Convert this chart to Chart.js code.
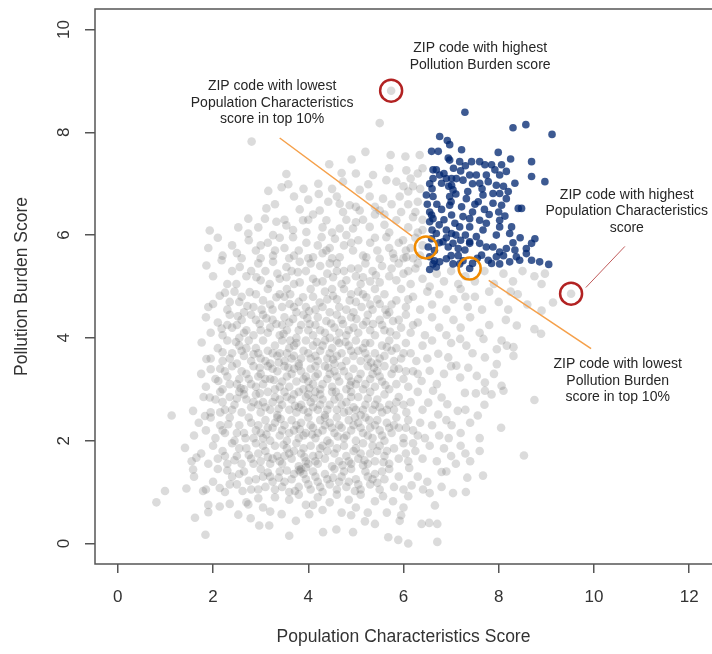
<!DOCTYPE html>
<html>
<head>
<meta charset="utf-8">
<script src="https://cdn.jsdelivr.net/npm/chart.js@4.4.1/dist/chart.umd.min.js"></script>
<style>
  body { margin: 0; background: #fff; }
</style>
</head>
<body>
<canvas id="chart" width="712" height="654"></canvas>
<script>
// axis ticks
const xTicks = [0, 2, 4, 6, 8, 10, 12];
const yTicks = [0, 2, 4, 6, 8, 10];

// all ZIP codes (population characteristics score, pollution burden score)
const grayPoints = [
  // y 0 - 1
  [1.84,0.17],[1.62,0.50],[1.90,0.61],[2.14,0.72],[2.35,0.77],[2.53,0.56],[2.74,0.76],[2.79,0.49],[2.70,0.80],[2.97,0.35],
  [3.18,0.35],[3.05,0.70],[3.30,0.90],[3.44,0.57],[3.60,0.85],[3.74,0.44],[3.80,0.95],[4.02,0.57],[3.95,0.75],[4.20,0.90],
  [4.31,0.22],[4.30,0.65],[4.45,0.80],[4.59,0.27],[4.60,0.95],[4.70,0.60],[4.85,0.85],[4.94,0.22],[5.00,0.70],[5.10,0.95],
  [5.19,0.43],[5.25,0.60],[5.40,0.38],[5.40,0.82],[5.57,0.92],[5.68,0.12],[5.78,0.82],[5.65,0.60],[5.89,0.07],[5.92,0.44],
  [6.10,0.92],[6.00,0.70],[6.10,0.00],[6.38,0.38],[6.54,0.40],[6.71,0.03],[6.71,0.38],[6.55,0.98],[6.66,0.74],[7.04,0.98],
  [4.10,0.75],[3.20,0.62],[2.95,0.88],[4.90,0.55],[5.95,0.55],[0.81,0.80],[1.90,0.75],[3.60,0.15],
  // y 1 - 1.5
  [0.99,1.02],[1.44,1.07],[1.79,1.02],[1.58,1.44],[1.60,1.30],[1.85,1.05],[2.00,1.20],[2.10,1.45],[2.14,1.08],[2.25,1.00],
  [2.40,1.30],[2.50,1.15],[2.65,1.40],[2.80,1.05],[2.90,1.25],[3.00,1.45],[3.10,1.10],[3.20,1.30],[3.30,1.05],[3.40,1.40],
  [3.50,1.20],[3.60,1.00],[3.70,1.35],[3.80,1.10],[3.85,1.45],[3.95,1.25],[4.05,1.05],[4.10,1.40],[4.20,1.20],[4.30,1.00],
  [4.35,1.35],[4.45,1.15],[4.55,1.45],[4.60,1.05],[4.70,1.30],[4.80,1.10],[4.90,1.45],[5.00,1.25],[5.10,1.05],[5.20,1.40],
  [5.30,1.15],[5.40,1.35],[5.50,1.05],[5.60,1.25],[5.70,1.45],[5.80,1.10],[5.90,1.30],[6.00,1.05],[6.17,1.13],[6.12,1.47],
  [6.30,1.30],[6.41,1.05],[6.50,1.20],[6.80,1.39],[6.90,1.40],[7.31,1.00],[7.34,1.28],[7.67,1.32],[2.30,1.42],[3.55,1.42],
  [4.00,1.15],[4.65,1.20],[5.35,1.25],[3.15,1.38],[2.75,1.22],[3.80,1.43],[3.83,1.40],
  [2.55,1.35],[2.95,1.05],[3.25,1.20],[3.45,1.10],[3.65,1.25],[3.90,1.35],[4.15,1.30],[4.40,1.25],[4.75,1.40],[5.05,1.15],
  [5.25,1.30],[5.55,1.40],[3.05,1.30],[4.25,1.10],[4.85,1.20],[6.80,1.10],
  [2.62,1.02],[3.38,1.28],[3.72,1.02],[4.52,1.28],[4.98,1.02],[5.45,1.18],[2.35,1.15],[3.95,1.48],[5.15,1.52],
  // y 1.5 - 2
  [1.41,1.86],[1.55,1.60],[1.65,1.67],[1.75,1.75],[1.90,1.55],[2.00,1.90],[2.10,1.65],[2.20,1.80],[2.30,1.55],[2.40,1.95],
  [2.50,1.70],[2.60,1.55],[2.70,1.85],[2.80,1.65],[2.90,1.95],[3.00,1.60],[3.10,1.80],[3.20,1.55],[3.30,1.90],[3.35,1.70],
  [3.45,1.55],[3.55,1.85],[3.65,1.65],[3.75,1.95],[3.80,1.50],[3.85,1.75],[3.95,1.60],[4.05,1.90],[4.10,1.70],[4.20,1.55],
  [4.25,1.85],[4.35,1.65],[4.45,1.95],[4.50,1.50],[4.55,1.75],[4.65,1.60],[4.75,1.90],[4.80,1.70],[4.90,1.55],[5.00,1.85],
  [5.05,1.65],[5.15,1.95],[5.25,1.55],[5.30,1.75],[5.40,1.60],[5.50,1.90],[5.60,1.70],[5.70,1.55],[5.80,1.85],[5.90,1.65],
  [6.00,1.95],[6.10,1.60],[6.25,1.80],[6.40,1.65],[6.55,1.90],[6.70,1.60],[6.85,1.85],[7.00,1.70],[7.20,1.90],[7.40,1.60],
  [7.60,1.80],[8.53,1.71],[4.40,1.80],[3.60,1.75],[2.95,1.75],[5.45,1.80],[4.95,1.80],
  [2.25,1.70],[2.55,1.85],[2.85,1.55],[3.05,1.90],[3.25,1.65],[3.50,1.70],[3.70,1.80],[3.90,1.85],[4.15,1.60],[4.30,1.90],
  [4.60,1.85],[4.85,1.60],[5.10,1.75],[5.35,1.90],[5.65,1.80],[6.05,1.75],[3.40,1.60],[4.00,1.55],[7.10,1.55],[7.30,1.75],
  [2.45,1.62],[2.75,1.72],[3.15,1.68],[3.48,1.92],[3.92,1.68],[4.22,1.72],[4.72,1.52],[5.18,1.62],[5.58,1.58],[6.20,1.95],
  // y 2 - 2.5
  [1.60,2.10],[1.70,2.35],[1.85,2.20],[1.95,2.45],[2.05,2.05],[2.15,2.30],[2.25,2.15],[2.35,2.45],[2.45,2.00],[2.55,2.30],
  [2.65,2.15],[2.75,2.45],[2.85,2.05],[2.95,2.30],[3.00,2.15],[3.10,2.40],[3.20,2.00],[3.25,2.25],[3.35,2.45],[3.40,2.10],
  [3.50,2.30],[3.55,2.00],[3.65,2.40],[3.70,2.20],[3.80,2.05],[3.85,2.35],[3.95,2.15],[4.00,2.45],[4.10,2.25],[4.15,2.05],
  [4.25,2.40],[4.30,2.20],[4.40,2.00],[4.45,2.35],[4.55,2.15],[4.60,2.45],[4.70,2.25],[4.75,2.05],[4.85,2.40],[4.90,2.20],
  [5.00,2.00],[5.05,2.35],[5.15,2.15],[5.20,2.45],[5.30,2.25],[5.35,2.05],[5.45,2.40],[5.50,2.20],[5.60,2.00],[5.65,2.35],
  [5.75,2.15],[5.85,2.45],[5.90,2.25],[6.00,2.05],[6.10,2.40],[6.20,2.20],[6.35,2.35],[6.45,2.05],[6.60,2.30],[6.75,2.10],
  [6.90,2.40],[7.01,2.30],[7.20,2.15],[7.40,2.35],[8.05,2.25],[7.60,2.05],[4.05,2.30],[4.65,2.30],[3.45,2.20],[5.25,2.10],
  [2.90,2.20],[4.35,2.45],[5.80,2.30],[3.90,2.10],[4.95,2.30],
  [2.20,2.20],[2.50,2.15],[2.80,2.35],[3.05,2.05],[3.30,2.35],[3.60,2.15],[3.75,2.30],[4.20,2.15],[4.50,2.25],[4.80,2.10],
  [5.10,2.25],[5.40,2.30],[5.70,2.25],[6.05,2.25],[3.15,2.25],[4.35,2.30],[6.95,2.05],
  [2.32,2.32],[2.68,2.05],[3.12,2.12],[3.42,2.42],[3.82,2.22],[4.08,2.12],[4.62,2.08],[4.98,2.45],[5.28,2.40],[5.55,2.10],
  [6.30,2.10],
  // y 2.5 - 3
  [1.13,2.49],[1.58,2.58],[1.83,2.48],[1.80,2.85],[1.93,2.84],[1.95,2.55],[2.05,2.80],[2.15,2.95],[2.25,2.60],[2.35,2.85],
  [2.45,2.70],[2.55,2.95],[2.60,2.55],[2.70,2.80],[2.80,2.65],[2.90,2.90],[3.00,2.55],[3.05,2.75],[3.15,2.95],[3.20,2.60],
  [3.30,2.85],[3.35,2.50],[3.45,2.70],[3.50,2.95],[3.60,2.60],[3.65,2.80],[3.75,2.55],[3.80,2.95],[3.85,2.70],[3.95,2.85],
  [4.00,2.55],[4.05,2.75],[4.15,2.95],[4.20,2.60],[4.30,2.80],[4.35,2.50],[4.45,2.70],[4.50,2.95],[4.60,2.60],[4.65,2.85],
  [4.75,2.55],[4.80,2.75],[4.90,2.95],[4.95,2.65],[5.05,2.85],[5.10,2.50],[5.20,2.70],[5.30,2.95],[5.35,2.60],[5.45,2.80],
  [5.55,2.55],[5.60,2.90],[5.70,2.70],[5.80,2.60],[5.90,2.85],[6.06,2.55],[6.15,2.75],[6.30,2.95],[6.52,2.74],[6.62,2.97],
  [6.73,2.51],[6.80,2.84],[6.92,2.71],[7.14,2.58],[7.29,2.93],[7.52,2.92],[7.56,2.49],[7.71,2.97],[7.85,2.90],[8.75,2.79],
  [8.10,2.97],[2.20,2.75],[3.40,2.80],[4.10,2.65],[4.55,2.80],[5.00,2.60],[3.70,2.90],[2.95,2.70],[5.50,2.65],[4.25,2.90],
  [3.90,2.60],
  [2.40,2.60],[2.65,2.90],[2.85,2.75],[3.10,2.65],[3.25,2.75],[3.55,2.85],[3.80,2.65],[4.00,2.90],[4.25,2.70],[4.40,2.60],
  [4.70,2.70],[4.90,2.85],[5.15,2.60],[5.40,2.70],[5.65,2.60],[6.00,2.70],[6.40,2.60],[7.30,2.60],[7.70,2.70],
  [2.15,2.55],[2.50,2.82],[2.98,2.92],[3.38,2.62],[3.72,2.68],[4.12,2.82],[4.58,2.95],[4.85,2.58],[5.25,2.82],[5.85,2.75],
  // y 3 - 3.5
  [1.75,3.30],[1.85,3.05],[1.95,3.39],[2.11,3.16],[2.05,3.20],[2.15,3.40],[2.20,3.00],[2.30,3.25],[2.40,3.45],[2.50,3.10],
  [2.60,3.35],[2.65,3.00],[2.75,3.20],[2.85,3.45],[2.90,3.05],[3.00,3.30],[3.05,3.10],[3.15,3.45],[3.20,3.20],[3.30,3.00],
  [3.35,3.35],[3.45,3.15],[3.50,3.45],[3.60,3.05],[3.65,3.30],[3.75,3.15],[3.80,3.45],[3.90,3.00],[3.95,3.25],[4.05,3.40],
  [4.10,3.10],[4.20,3.30],[4.25,3.00],[4.35,3.45],[4.40,3.20],[4.50,3.05],[4.55,3.35],[4.65,3.15],[4.70,3.45],[4.80,3.00],
  [4.85,3.25],[4.95,3.40],[5.00,3.10],[5.10,3.30],[5.15,3.00],[5.25,3.45],[5.30,3.20],[5.40,3.05],[5.45,3.35],[5.55,3.15],
  [5.60,3.45],[5.70,3.00],[5.75,3.30],[5.85,3.10],[5.90,3.40],[6.00,3.20],[6.10,3.05],[6.20,3.35],[6.38,3.16],[6.55,3.36],
  [6.70,3.10],[6.85,3.30],[7.19,3.23],[7.36,3.42],[7.54,3.26],[7.71,3.13],[8.06,3.07],[7.00,3.45],[3.55,3.25],[4.00,3.15],
  [4.45,3.30],[3.25,3.40],[2.55,3.20],[4.90,3.15],[5.35,3.30],[3.85,3.35],[4.15,3.45],[2.95,3.25],
  [2.35,3.10],[2.70,3.30],[3.10,3.20],[3.40,3.05],[3.70,3.40],[3.90,3.20],[4.30,3.10],[4.60,3.25],[4.75,3.35],[5.05,3.20],
  [5.20,3.10],[5.50,3.25],[5.80,3.40],[6.30,3.30],[2.80,3.10],[4.15,3.25],[7.90,3.30],
  [2.25,3.35],[2.58,3.02],[2.98,3.42],[3.28,3.18],[3.58,3.42],[4.02,3.02],[4.42,3.42],[4.88,3.08],[5.38,3.42],[5.62,3.08],
  [6.05,3.35],
  // y 3.5 - 4
  [1.76,3.91],[1.86,3.59],[1.95,3.60],[2.10,3.80],[2.20,3.55],[2.30,3.95],[2.40,3.70],[2.50,3.50],[2.55,3.85],[2.65,3.65],
  [2.75,3.95],[2.80,3.55],[2.90,3.80],[3.00,3.60],[3.05,3.95],[3.15,3.75],[3.20,3.50],[3.30,3.85],[3.35,3.65],[3.45,3.95],
  [3.50,3.55],[3.60,3.80],[3.65,3.60],[3.75,3.90],[3.80,3.50],[3.90,3.75],[3.95,3.95],[4.05,3.60],[4.10,3.85],[4.20,3.55],
  [4.25,3.75],[4.35,3.95],[4.40,3.60],[4.50,3.80],[4.55,3.50],[4.65,3.90],[4.70,3.70],[4.80,3.55],[4.85,3.85],[4.95,3.65],
  [5.00,3.95],[5.10,3.55],[5.15,3.80],[5.25,3.60],[5.30,3.90],[5.40,3.70],[5.45,3.50],[5.55,3.85],[5.60,3.65],[5.70,3.95],
  [5.80,3.55],[5.85,3.80],[5.95,3.60],[6.05,3.90],[6.15,3.70],[6.27,3.55],[6.40,3.85],[6.73,3.69],[6.94,3.62],[7.11,3.46],
  [7.32,3.85],[7.71,3.62],[7.96,3.49],[8.31,3.65],[7.96,3.78],[8.17,3.85],[8.31,3.82],[7.19,3.98],[7.68,3.98],[8.06,3.95],
  [6.60,3.95],[3.40,3.70],[4.00,3.70],[4.45,3.70],[2.95,3.70],[5.20,3.70],[3.70,3.65],[4.60,3.95],[5.05,3.75],[2.60,3.75],
  [2.35,3.60],[2.70,3.80],[3.10,3.55],[3.25,3.70],[3.55,3.70],[3.85,3.60],[4.15,3.65],[4.30,3.85],[4.60,3.65],[4.90,3.75],
  [5.20,3.90],[5.50,3.60],[5.75,3.75],[6.00,3.70],[6.50,3.60],[3.70,3.85],[7.45,3.70],[7.00,3.90],
  [2.20,3.72],[2.48,3.92],[2.85,3.68],[3.38,3.52],[3.62,3.95],[4.18,3.92],[4.52,3.58],[4.78,3.92],[5.32,3.52],[5.65,3.82],
  // y 4 - 4.5
  [1.85,4.40],[1.95,4.10],[2.10,4.30],[2.20,4.05],[2.35,4.45],[2.40,4.20],[2.55,4.00],[2.60,4.35],[2.70,4.15],[2.80,4.45],
  [2.85,4.05],[2.98,4.27],[3.05,4.45],[3.15,4.10],[3.25,4.35],[3.33,4.27],[3.40,4.05],[3.50,4.40],[3.55,4.15],[3.68,4.37],
  [3.75,4.00],[3.85,4.25],[3.90,4.45],[4.03,4.27],[4.10,4.05],[4.20,4.40],[4.25,4.15],[4.38,4.33],[4.45,4.00],[4.55,4.20],
  [4.60,4.45],[4.73,4.27],[4.80,4.05],[4.90,4.40],[5.01,4.37],[5.05,4.10],[5.15,4.25],[5.25,4.45],[5.36,4.27],[5.40,4.05],
  [5.50,4.35],[5.60,4.15],[5.65,4.45],[5.78,4.33],[5.85,4.05],[5.95,4.20],[6.05,4.45],[6.15,4.10],[6.30,4.30],[6.45,4.05],
  [6.60,4.40],[6.75,4.20],[6.90,4.05],[7.05,4.35],[7.20,4.20],[7.40,4.40],[7.80,4.25],[8.38,4.24],[8.75,4.17],[8.89,4.08],
  [3.45,4.25],[4.00,4.15],[4.65,4.10],[2.50,4.25],[3.00,4.15],
  [2.30,4.25],[2.65,4.10],[2.90,4.35],[3.20,4.20],[3.60,4.30],[3.80,4.15],[4.15,4.25],[4.35,4.10],[4.70,4.35],[4.95,4.20],
  [5.30,4.15],[5.55,4.25],[5.90,4.35],[6.20,4.25],[7.60,4.10],[8.15,4.35],
  [2.18,4.18],[2.52,4.42],[3.12,4.38],[3.48,4.08],[3.98,4.38],[4.48,4.28],[4.85,4.15],[5.22,4.32],[5.72,4.12],
  // y 4.5 - 5
  [1.90,4.60],[2.00,4.66],[2.14,4.82],[2.30,4.55],[2.45,4.90],[2.55,4.70],[2.65,4.50],[2.77,4.89],[2.85,4.60],[3.05,4.73],
  [3.15,4.95],[3.25,4.55],[3.33,4.79],[3.45,4.60],[3.55,4.95],[3.61,4.66],[3.75,4.50],[3.89,4.79],[3.95,4.60],[4.05,4.95],
  [4.15,4.55],[4.24,4.69],[4.35,4.90],[4.45,4.50],[4.52,4.82],[4.65,4.60],[4.75,4.95],[4.87,4.73],[4.95,4.50],[5.05,4.90],
  [5.12,4.60],[5.22,4.79],[5.35,4.55],[5.40,4.95],[5.50,4.66],[5.60,4.85],[5.70,4.50],[5.85,4.73],[5.95,4.95],[6.05,4.60],
  [6.20,4.80],[6.35,4.55],[6.50,4.90],[6.60,4.65],[6.75,4.85],[6.90,4.55],[7.05,4.75],[7.20,4.95],[7.35,4.60],[7.50,4.80],
  [7.65,4.55],[7.80,4.90],[8.00,4.70],[8.20,4.55],[8.40,4.85],[8.60,4.65],[8.90,4.53],[9.14,4.69],[9.52,4.86],[3.80,4.70],
  [4.40,4.75],[5.00,4.70],[3.40,4.85],[2.60,4.80],
  [2.35,4.70],[2.90,4.85],[3.20,4.65],[3.50,4.80],[3.70,4.60],[4.10,4.80],[4.30,4.60],[4.60,4.75],[4.80,4.55],[5.15,4.85],
  [5.45,4.75],[5.75,4.65],[6.10,4.75],[7.30,4.80],[8.25,4.90],
  [2.25,4.88],[2.72,4.62],[3.02,4.55],[3.62,4.85],[4.02,4.52],[4.50,4.95],[4.90,4.85],[5.30,4.65],[5.62,4.55],
  // y 5 - 5.5
  [1.86,5.41],[2.00,5.20],[2.18,5.51],[2.30,5.05],[2.49,5.05],[2.56,5.38],[2.70,5.20],[2.91,5.18],[2.95,5.45],[3.19,5.05],
  [3.26,5.48],[3.35,5.25],[3.54,5.18],[3.54,5.38],[3.70,5.05],[3.82,5.08],[3.82,5.48],[3.95,5.30],[4.10,5.15],[4.17,5.08],
  [4.25,5.40],[4.40,5.25],[4.52,5.18],[4.60,5.45],[4.70,5.05],[4.80,5.12],[4.90,5.35],[5.00,5.20],[5.15,5.18],[5.20,5.45],
  [5.35,5.30],[5.50,5.08],[5.55,5.40],[5.70,5.20],[5.85,5.12],[5.90,5.45],[6.00,5.25],[6.15,5.05],[6.25,5.35],[6.40,5.15],
  [6.55,5.00],[6.70,5.25],[6.85,5.10],[7.00,5.30],[7.15,5.05],[7.30,5.20],[7.50,5.10],[7.70,5.30],[7.90,5.05],[8.10,5.25],
  [8.30,5.10],[8.50,5.30],[8.75,5.20],[8.97,5.25],[8.90,5.05],[4.05,5.45],[3.10,5.30],[4.75,5.30],[6.30,5.45],
  [2.80,5.30],[3.40,5.15],[3.65,5.30],[4.30,5.10],[4.60,5.30],[5.05,5.35],[5.30,5.10],[5.75,5.35],[6.10,5.30],
  [2.40,5.30],[3.00,5.12],[3.78,5.28],[4.45,5.45],[5.10,5.05],[5.42,5.22],
  // y 5.5 - 6
  [1.90,5.75],[2.10,5.95],[2.20,5.60],[2.40,5.80],[2.60,5.55],[2.75,5.90],[2.90,5.70],[3.00,5.55],[3.15,5.85],[3.26,5.60],
  [3.40,5.95],[3.50,5.75],[3.60,5.55],[3.68,5.96],[3.80,5.70],[3.96,5.85],[4.00,5.55],[4.10,5.57],[4.20,5.80],[4.28,5.96],
  [4.38,5.70],[4.50,5.55],[4.56,5.93],[4.66,5.57],[4.75,5.80],[4.80,6.00],[4.94,5.70],[5.05,5.90],[5.15,5.60],[5.22,5.57],
  [5.30,5.85],[5.45,5.70],[5.50,5.54],[5.64,5.96],[5.70,5.75],[5.78,5.64],[5.90,5.85],[6.00,5.55],[6.06,5.57],[5.99,5.90],
  [6.15,5.75],[6.25,5.95],[6.35,5.60],[6.40,5.80],[2.50,5.65],[3.30,5.70],[4.45,5.75],[6.05,5.70],[6.20,5.55],
  [3.00,5.80],[3.70,5.60],[4.30,5.65],[4.90,5.85],[5.40,5.95],[5.80,5.55],
  // y 6 - 7
  [1.93,6.09],[2.53,6.15],[2.74,6.32],[2.74,6.03],[3.09,6.32],[3.26,6.00],[3.33,6.26],[3.54,6.19],[3.68,6.10],[3.89,6.29],
  [3.96,6.06],[4.10,6.40],[4.24,6.48],[4.38,6.29],[4.50,6.05],[4.66,6.13],[4.73,6.45],[4.94,6.13],[5.08,6.48],[5.15,6.30],
  [5.29,6.16],[5.40,6.40],[5.50,6.48],[5.60,6.20],[5.70,6.05],[5.85,6.29],[5.95,6.45],[6.10,6.15],[6.20,6.35],[6.30,6.05],
  [6.40,6.30],[3.12,6.52],[3.82,6.50],[2.95,6.15],[4.00,6.30],[4.80,6.30],[6.40,6.10],[6.25,6.45],
  [3.50,6.30],[4.30,6.15],[5.00,6.25],[5.60,6.40],
  [3.16,6.86],[3.44,6.93],[3.58,6.99],[4.00,6.69],[4.22,6.80],[4.42,6.65],[4.66,6.61],[4.87,6.58],[5.08,6.88],[5.29,6.75],
  [5.57,6.71],[5.92,6.75],[3.30,6.60],[3.70,6.75],[5.40,6.55],[5.75,6.60],[6.10,6.85],[6.30,6.65],[6.20,6.95],[4.50,6.90],
  [5.00,6.55],[3.90,6.90],[6.10,6.60],[6.35,6.90],[6.00,6.95],[4.60,6.75],
  // y above 7
  [4.21,7.00],[4.73,7.04],[5.26,6.99],[3.54,7.19],[4.70,7.21],[5.36,7.17],[5.64,7.07],[5.85,7.04],[6.06,7.26],[5.70,7.30],
  [4.44,7.38],[4.91,7.47],[5.20,7.62],[5.73,7.56],[6.04,7.53],[6.34,7.56],[2.81,7.82],[5.50,8.18],[5.74,8.81],[6.30,7.20],
  [5.00,7.20],[6.15,7.10],[6.40,7.30]
];

// ZIP codes in the top 10% for both scores
const bluePoints = [
  [7.29,8.39],[8.30,8.09],[8.57,8.15],[9.12,7.96],[6.76,7.92],[6.92,7.84],[6.97,7.76],[6.59,7.63],[6.73,7.63],[7.22,7.66],
  [7.99,7.61],[6.94,7.50],[6.97,7.46],[7.18,7.43],[7.43,7.43],[7.60,7.43],[7.71,7.37],[7.85,7.37],[8.06,7.37],[8.25,7.48],
  [8.69,7.43],[6.62,7.27],[6.69,7.27],[6.76,7.17],[6.90,7.10],[7.01,7.10],[7.11,7.10],[7.25,7.07],[7.39,7.17],[7.53,7.17],
  [7.74,7.17],[7.92,7.27],[8.02,7.17],[8.16,7.24],[6.62,7.10],[6.80,7.01],[7.01,6.97],[7.04,6.88],[7.60,7.01],[7.78,7.04],
  [7.95,6.97],[8.34,7.01],[8.69,7.14],[8.97,7.04],[6.48,6.78],[6.62,6.75],[6.97,6.75],[7.32,6.71],[7.57,6.65],[7.67,6.78],
  [7.88,6.81],[8.02,6.81],[7.88,6.62],[8.06,6.58],[8.16,6.71],[8.41,6.52],[8.48,6.52],[6.55,6.45],[6.59,6.39],[6.62,6.32],
  [6.55,6.26],[6.97,6.58],[7.01,6.39],[7.22,6.55],[7.25,6.36],[7.39,6.32],[7.08,6.23],[7.18,6.16],[7.39,6.16],[7.60,6.29],
  [7.74,6.23],[8.02,6.29],[8.02,6.16],[8.13,6.37],[8.27,6.16],[8.23,6.03],[7.67,6.10],[7.53,5.97],[7.39,5.87],[7.01,6.03],
  [7.04,5.84],[6.69,6.03],[6.52,5.77],[6.59,5.93],[6.83,5.87],[6.94,5.77],[7.15,5.74],[7.29,5.71],[7.39,5.84],[7.60,5.84],
  [7.74,5.77],[7.88,5.77],[8.02,5.67],[8.16,5.74],[8.34,5.71],[8.37,5.58],[8.58,5.74],[8.69,5.84],[8.76,5.93],[8.58,5.64],
  [8.44,5.51],[8.69,5.51],[8.86,5.48],[9.05,5.43],[6.55,5.58],[6.62,5.44],[6.76,5.48],[6.90,5.54],[7.04,5.44],[7.18,5.44],
  [7.39,5.35],[7.64,5.61],[7.78,5.51],[7.95,5.58],[8.02,5.44],[8.23,5.48],[6.69,5.38],[6.55,5.33],
  [6.55,7.00],[6.60,6.90],[6.70,6.60],[6.80,6.50],[6.85,6.30],[6.75,6.20],[6.90,6.10],[6.65,5.70],[6.75,5.85],[6.90,5.95],
  [7.10,6.00],[7.20,5.90],[7.30,6.00],[7.45,6.45],[7.50,6.60],[7.35,6.85],[7.45,7.00],[7.20,7.25],[7.30,7.35],[7.05,7.30],
  [6.85,7.20],[7.55,5.55],[7.45,5.45],[7.25,5.50],[7.85,5.45],[8.10,5.60],[8.30,5.85],[8.45,5.95],[7.95,6.00],[7.80,6.40],
  [7.65,6.90],[8.10,6.95],[6.60,6.10],[6.50,6.60],[6.65,5.50],[7.00,5.60],[7.15,5.60],[7.70,6.50],[8.00,6.45],[8.20,6.85],
  [7.00,6.65],[6.95,6.95],[7.10,6.80]
];

// highlighted ZIP codes and the callout lines
const redCircles = [[5.74, 8.81], [9.52, 4.86]];
const orangeCircles = [[6.47, 5.76], [7.39, 5.35]];
const orangeLineA = [[3.40, 7.89], [6.18, 5.98]];
const orangeLineB = [[7.79, 5.12], [9.94, 3.79]];
const redLine = [[9.83, 4.98], [10.65, 5.78]];

const noteText = [
  ['ZIP code with highest', 'Pollution Burden score'],
  ['ZIP code with lowest', 'Population Characteristics', 'score in top 10%'],
  ['ZIP code with highest', 'Population Characteristics', 'score'],
  ['ZIP code with lowest', 'Pollution Burden', 'score in top 10%']
];
const noteAnchor = [[7.61, 9.63], [3.24, 8.89], [10.69, 6.78], [10.50, 3.48]];

const toXY = arr => arr.map(p => ({x: p[0], y: p[1]}));
const FONT = '"Liberation Sans", Arial, sans-serif';

// keep the plot box fixed: no extra room for overhanging tick labels
const noPad = s => { s.paddingLeft = 0; s.paddingRight = 0; s.paddingTop = 0; s.paddingBottom = 0; };

const boxAndNotes = {
  id: 'boxAndNotes',
  afterDraw(chart) {
    const {ctx, chartArea: a, scales: {x, y}} = chart;
    ctx.save();
    ctx.strokeStyle = '#555';
    ctx.lineWidth = 1.5;
    ctx.strokeRect(a.left, a.top, a.right - a.left + 2, a.bottom - a.top);
    ctx.font = '14px ' + FONT;
    ctx.fillStyle = '#262626';
    ctx.textAlign = 'center';
    ctx.textBaseline = 'middle';
    noteText.forEach((lines, i) => {
      const px = x.getPixelForValue(noteAnchor[i][0]);
      const py = y.getPixelForValue(noteAnchor[i][1]);
      lines.forEach((t, j) => ctx.fillText(t, px, py + j * 16.5));
    });
    ctx.restore();
  }
};

new Chart(document.getElementById('chart'), {
  type: 'scatter',
  data: {
    datasets: [
      {
        data: toXY(grayPoints),
        backgroundColor: 'rgba(100, 100, 100, 0.23)',
        borderWidth: 0,
        pointRadius: 4.3,
        order: 5
      },
      {
        data: toXY(bluePoints),
        backgroundColor: 'rgba(0, 38, 112, 0.76)',
        borderWidth: 0,
        pointRadius: 3.8,
        order: 4
      },
      {
        data: toXY(orangeLineA),
        showLine: true,
        borderColor: '#f5a04a',
        borderWidth: 1.5,
        pointRadius: 0,
        order: 3
      },
      {
        data: toXY(orangeLineB),
        showLine: true,
        borderColor: '#f5a04a',
        borderWidth: 1.5,
        pointRadius: 0,
        order: 3
      },
      {
        data: toXY(redLine),
        showLine: true,
        borderColor: '#c05a5a',
        borderWidth: 1,
        pointRadius: 0,
        order: 3
      },
      {
        data: toXY(redCircles),
        backgroundColor: 'rgba(0,0,0,0)',
        borderColor: '#b22222',
        borderWidth: 2.5,
        pointRadius: 11,
        order: 1
      },
      {
        data: toXY(orangeCircles),
        backgroundColor: 'rgba(0,0,0,0)',
        borderColor: '#f08a00',
        borderWidth: 2.5,
        pointRadius: 11,
        order: 1
      }
    ]
  },
  options: {
    responsive: false,
    animation: false,
    events: [],
    layout: {autoPadding: false, padding: {top: 9, right: 0, left: 0, bottom: 0}},
    plugins: {
      legend: {display: false},
      tooltip: {enabled: false}
    },
    scales: {
      x: {
        type: 'linear',
        min: -0.48,
        max: 12.48,
        afterBuildTicks: s => { s.ticks = xTicks.map(v => ({value: v})); },
        afterFit: s => { s.height = 90; noPad(s); },
        border: {display: false},
        grid: {drawOnChartArea: false, drawTicks: true, tickLength: 9, color: '#555', lineWidth: 1.5},
        ticks: {color: '#333', font: {family: FONT, size: 17}, padding: 14, maxRotation: 0},
        title: {display: true, text: 'Population Characteristics Score', color: '#333',
                font: {family: FONT, size: 17.5}, padding: {top: 0, bottom: 6}}
      },
      y: {
        type: 'linear',
        min: -0.4,
        max: 10.4,
        afterBuildTicks: s => { s.ticks = yTicks.map(v => ({value: v})); },
        afterFit: s => { s.width = 95; noPad(s); },
        border: {display: false},
        grid: {drawOnChartArea: false, drawTicks: true, tickLength: 10, color: '#555', lineWidth: 1.5},
        ticks: {color: '#333', font: {family: FONT, size: 17}, padding: 11,
                minRotation: 90, maxRotation: 90, crossAlign: 'center'},
        title: {display: true, text: 'Pollution Burden Score', color: '#333',
                font: {family: FONT, size: 17.5}, padding: {top: 12, bottom: 0}}
      }
    }
  },
  plugins: [boxAndNotes]
});
</script>
</body>
</html>
